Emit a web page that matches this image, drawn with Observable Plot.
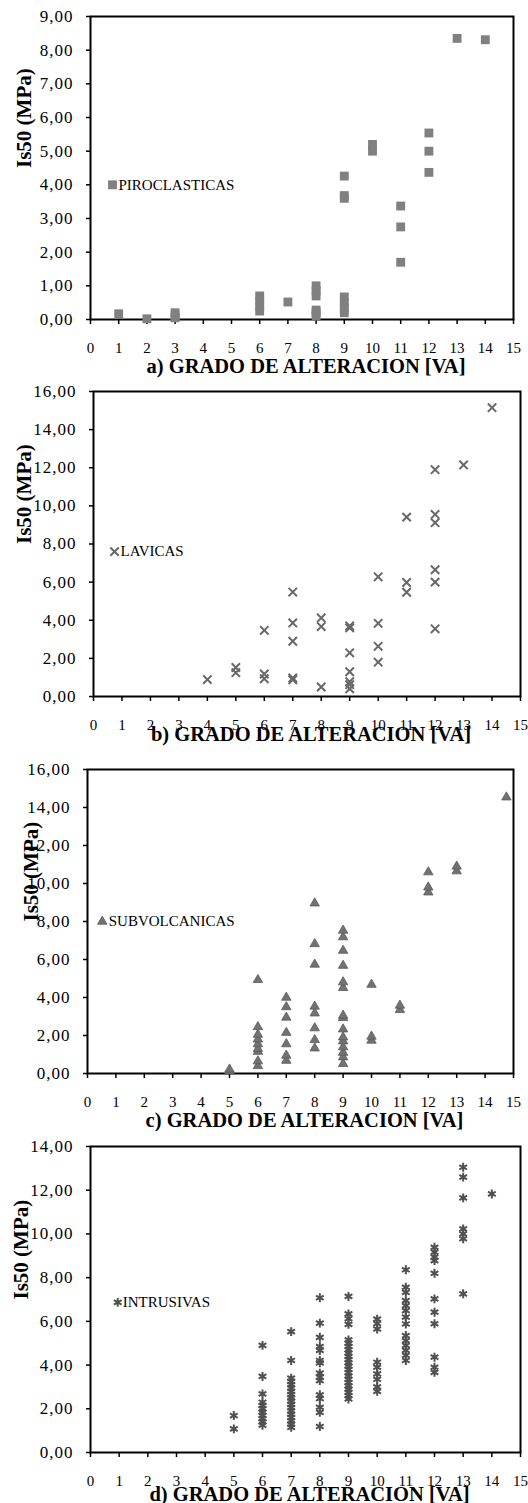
<!DOCTYPE html>
<html>
<head>
<meta charset="utf-8">
<script src="https://cdn.jsdelivr.net/npm/d3@7"></script>
<script src="https://cdn.jsdelivr.net/npm/@observablehq/plot@0.6"></script>
<style>
  html, body { margin: 0; padding: 0; background: #fff; }
  body { width: 528px; height: 1503px; position: relative; overflow: hidden; font-family: "Liberation Serif", "Times New Roman", serif; }
  .panel { position: absolute; left: 0; }
  g[aria-label="y-axis tick label"] text { letter-spacing: 1px; }
</style>
</head>
<body>
<div id="pa" class="panel" style="top:0px"></div>
<div id="pb" class="panel" style="top:378px"></div>
<div id="pc" class="panel" style="top:745px"></div>
<div id="pd" class="panel" style="top:1125px"></div>
<script>
// ---- shared axis values ----
const xTicks = [0, 1, 2, 3, 4, 5, 6, 7, 8, 9, 10, 11, 12, 13, 14, 15];
const yLabel = "Is50 (MPa)";
const xTitles = ["a) GRADO DE ALTERACION [VA]", "b) GRADO DE ALTERACION [VA]", "c) GRADO DE ALTERACION [VA]", "d) GRADO DE ALTERACION [VA]"];
const seriesNames = ["PIROCLASTICAS", "LAVICAS", "SUBVOLCANICAS", "INTRUSIVAS"];

// ---- a) PIROCLASTICAS ----
const piroGrade = [1, 2, 3, 3, 3, 6, 6, 6, 6, 7, 8, 8, 8, 8, 8, 8, 9, 9, 9, 9, 9, 9, 9, 10, 10, 11, 11, 11, 12, 12, 12, 13, 14];
const piroIs50  = [0.17, 0.02, 0.05, 0.12, 0.2, 0.25, 0.4, 0.55, 0.7, 0.52, 0.1, 0.2, 0.28, 0.7, 0.85, 1.0, 0.2, 0.35, 0.5, 0.67, 3.6, 3.68, 4.26, 5.0, 5.2, 1.7, 2.75, 3.37, 4.37, 5.0, 5.54, 8.35, 8.31];
const piroYTicks = [0, 1, 2, 3, 4, 5, 6, 7, 8, 9];

// ---- b) LAVICAS ----
const lavGrade = [4, 5, 5, 6, 6, 6, 7, 7, 7, 7, 7, 8, 8, 8, 9, 9, 9, 9, 9, 9, 9, 10, 10, 10, 10, 11, 11, 11, 12, 12, 12, 12, 12, 12, 13, 14];
const lavIs50  = [0.89, 1.25, 1.52, 0.93, 1.18, 3.47, 0.88, 0.97, 2.9, 3.86, 5.48, 0.5, 3.67, 4.12, 0.4, 0.62, 0.78, 1.3, 2.29, 3.6, 3.7, 1.8, 2.63, 3.84, 6.28, 5.47, 5.98, 9.41, 3.55, 6.0, 6.65, 9.12, 9.55, 11.9, 12.15, 15.15];
const lavYTicks = [0, 2, 4, 6, 8, 10, 12, 14, 16];

// ---- c) SUBVOLCANICAS ----
const subGrade = [5, 5,
  6, 6, 6, 6, 6, 6, 6, 6, 6,
  7, 7, 7, 7, 7, 7, 7,
  8, 8, 8, 8, 8, 8, 8, 8,
  9, 9, 9, 9, 9, 9, 9, 9, 9, 9, 9, 9, 9, 9, 9,
  10, 10, 10, 11, 11, 12, 12, 12, 13, 13, 14.75];
const subIs50 = [0.12, 0.22,
  0.4, 0.65, 1.15, 1.3, 1.55, 1.8, 2.05, 2.45, 4.93,
  0.68, 0.95, 1.55, 2.15, 2.95, 3.5, 4.0,
  1.33, 1.77, 2.39, 3.17, 3.53, 5.74, 6.82, 8.96,
  0.51, 0.86, 1.1, 1.39, 1.7, 1.91, 2.33, 2.93, 3.05, 4.51, 4.81, 5.68, 6.47, 7.18, 7.53,
  1.74, 1.95, 4.68, 3.35, 3.58, 9.54, 9.8, 10.6, 10.65, 10.9, 14.54];
const subYTicks = [0, 2, 4, 6, 8, 10, 12, 14, 16];

// ---- d) INTRUSIVAS ----
const intGrade = [5, 5,
  6, 6, 6, 6, 6, 6, 6, 6, 6, 6, 6,
  7, 7, 7, 7, 7, 7, 7, 7, 7, 7, 7, 7, 7, 7, 7, 7, 7, 7,
  8, 8, 8, 8, 8, 8, 8, 8, 8, 8, 8, 8, 8, 8, 8,
  9, 9, 9, 9, 9, 9, 9, 9, 9, 9, 9, 9, 9, 9, 9, 9, 9, 9, 9, 9, 9, 9, 9,
  10, 10, 10, 10, 10, 10, 10, 10, 10,
  11, 11, 11, 11, 11, 11, 11, 11, 11, 11, 11, 11, 11, 11,
  12, 12, 12, 12, 12, 12, 12, 12, 12, 12, 12,
  13, 13, 13, 13, 13, 13, 13,
  14];
const intIs50 = [1.08, 1.69,
  1.25, 1.4, 1.55, 1.7, 1.85, 2.0, 2.15, 2.3, 2.68, 3.48, 4.9,
  1.15, 1.3, 1.45, 1.6, 1.75, 1.9, 2.05, 2.2, 2.35, 2.5, 2.65, 2.8, 2.95, 3.1, 3.25, 3.4, 4.21, 5.53,
  1.19, 1.84, 2.07, 2.46, 2.64, 3.29, 3.45, 3.63, 4.1, 4.21, 4.67, 4.85, 5.27, 5.92, 7.08,
  2.45, 2.6, 2.75, 2.9, 3.05, 3.2, 3.35, 3.5, 3.65, 3.8, 3.95, 4.1, 4.25, 4.4, 4.55, 4.7, 4.85, 5.0, 5.15, 5.86, 6.12, 6.34, 7.14,
  2.8, 3.0, 3.35, 3.6, 3.9, 4.13, 5.65, 5.9, 6.1,
  4.21, 4.44, 4.67, 4.9, 5.12, 5.35, 5.88, 6.19, 6.49, 6.72, 6.95, 7.33, 7.56, 8.36,
  3.67, 3.9, 4.36, 5.89, 6.42, 7.03, 8.2, 8.78, 8.94, 9.17, 9.39,
  7.26, 9.78, 10.0, 10.23, 11.65, 12.6, 13.05,
  11.83];
const intYTicks = [0, 2, 4, 6, 8, 10, 12, 14];

// legend anchor positions (data coordinates)
const legendGrade = [0.78, 0.74, 0.52, 0.95];
const legendIs50 = [4.0, 7.6, 8.0, 6.87];

const fmt = d => d.toFixed(2).replace(".", ",");

function panel(id, cfg) {
  const data = cfg.grades.map((g, i) => ({g, v: cfg.values[i]}));
  const leg = [{g: cfg.legX, v: cfg.legY, name: cfg.name}];
  const dotOpts = cfg.filled
    ? {fill: cfg.color, stroke: cfg.edge || "none", strokeWidth: 0.8}
    : {stroke: cfg.color, fill: "none", strokeWidth: cfg.sw || 2};
  const chart = Plot.plot({
    width: 528,
    height: cfg.height,
    marginTop: cfg.mt,
    marginRight: cfg.mr,
    marginBottom: cfg.mb,
    marginLeft: cfg.ml,
    style: {fontFamily: '"Liberation Serif", "Times New Roman", serif', fontSize: "15px", color: "#000", background: "transparent", overflow: "visible"},
    x: {domain: [0, 15]},
    y: {domain: [0, cfg.yMax]},
    marks: [
      Plot.axisY({ticks: cfg.yTicks, tickSize: 4, tickPadding: 13, tickFormat: fmt, label: null, fontSize: 17, strokeWidth: 1.5}),
      Plot.axisX({ticks: xTicks, tickSize: 5, tickPadding: 18, tickFormat: d => String(d), label: null, fontSize: 15, strokeWidth: 1.5}),
      Plot.frame({stroke: "#000", strokeWidth: 2}),
      Plot.dot(data, {x: "g", y: "v", symbol: cfg.symbol, r: cfg.r, ...dotOpts}),
      Plot.dot(leg, {x: "g", y: "v", symbol: cfg.symbol, r: cfg.r, ...dotOpts}),
      Plot.text(leg, {x: "g", y: "v", text: "name", textAnchor: "start", dx: cfg.legDx, fontSize: 15, fill: "#000"}),
      Plot.text([cfg.title], {frameAnchor: "bottom", dy: cfg.titleDy, dx: 4, fontWeight: "bold", fontSize: 20.5, fill: "#000", lineAnchor: "middle"}),
      Plot.text([yLabel], {frameAnchor: "left", dx: cfg.yLabX - cfg.ml, rotate: -90, fontWeight: "bold", fontSize: 21, fill: "#000", lineAnchor: "middle"})
    ]
  });
  document.getElementById(id).appendChild(chart);
}

panel("pa", {grades: piroGrade, values: piroIs50, yMax: 9, yTicks: piroYTicks, symbol: "square", r: 5, filled: true, color: "#808080",
  name: seriesNames[0], legX: legendGrade[0], legY: legendIs50[0], legDx: 6, title: xTitles[0],
  height: 378, mt: 16, mb: 59, ml: 90, mr: 15, titleDy: 47, yLabX: 24});
panel("pb", {grades: lavGrade, values: lavIs50, yMax: 16, yTicks: lavYTicks, symbol: "times", r: 3.9, filled: false, color: "#686868", sw: 2,
  name: seriesNames[1], legX: legendGrade[1], legY: legendIs50[1], legDx: 6, title: xTitles[1],
  height: 367, mt: 13, mb: 49, ml: 93, mr: 8, titleDy: 38, yLabX: 24});
panel("pc", {grades: subGrade, values: subIs50, yMax: 16, yTicks: subYTicks, symbol: "triangle", r: 3.5, filled: true, color: "#727272", edge: "#5a5a5a",
  name: seriesNames[2], legX: legendGrade[2], legY: legendIs50[2], legDx: 6.5, title: xTitles[2],
  height: 380, mt: 24, mb: 52, ml: 87, mr: 15, titleDy: 47, yLabX: 31});
panel("pd", {grades: intGrade, values: intIs50, yMax: 14, yTicks: intYTicks, symbol: "asterisk", r: 4.2, filled: false, color: "#505050", sw: 2,
  name: seriesNames[3], legX: legendGrade[3], legY: legendIs50[3], legDx: 5, title: xTitles[3],
  height: 378, mt: 21, mb: 51, ml: 90, mr: 8, titleDy: 42, yLabX: 21});
</script>
</body>
</html>
